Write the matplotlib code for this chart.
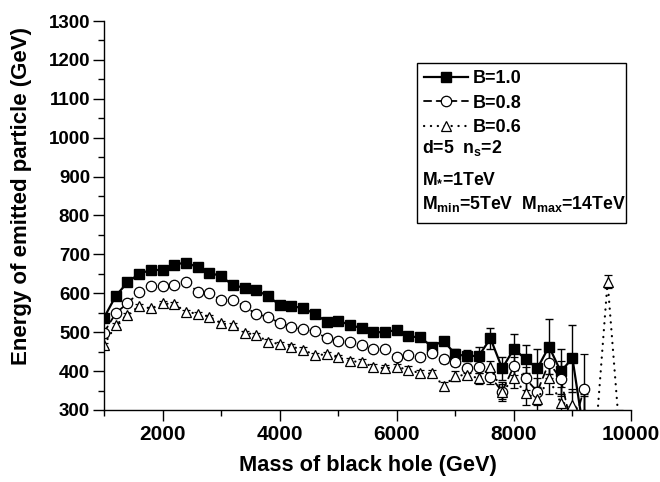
import matplotlib
matplotlib.use("Agg")
import matplotlib.pyplot as plt
from matplotlib.patches import Rectangle

plt.rcParams['font.family'] = ['Liberation Sans', 'DejaVu Sans']
plt.rcParams['font.weight'] = 'bold'
plt.rcParams['mathtext.fontset'] = 'custom'
plt.rcParams['mathtext.rm'] = 'Liberation Sans:bold'
plt.rcParams['mathtext.it'] = 'Liberation Sans:bold'
plt.rcParams['mathtext.bf'] = 'Liberation Sans:bold'

# ---- data ----
mass_b10 = list(range(1000, 9201, 200))
energy_b10 = [537, 593, 628, 650, 660, 660, 674, 679, 667, 653, 644, 621, 614, 608, 593,
              570, 567, 562, 547, 527, 529, 519, 510, 500, 500, 506, 489, 487, 463, 478,
              443, 439, 439, 484, 407, 457, 431, 407, 463, 399, 433, 235]
err_b10 = [4, 4, 4, 4, 4, 4, 4, 4, 4, 4, 4, 4, 4, 5, 5,
           5, 5, 5, 5, 5, 6, 6, 6, 6, 7, 7, 7, 8, 8, 10,
           13, 14, 22, 28, 30, 38, 35, 49, 70, 59, 86, 100]

mass_b08 = list(range(1000, 9201, 200))
energy_b08 = [499, 549, 574, 603, 619, 619, 621, 630, 604, 600, 583, 583, 567, 546, 540,
              523, 514, 507, 503, 484, 478, 476, 467, 456, 457, 437, 441, 437, 446, 430,
              424, 407, 410, 386, 347, 413, 381, 347, 422, 380, 250, 355]
err_b08 = [4, 4, 4, 4, 4, 4, 4, 4, 4, 4, 4, 4, 4, 5, 5,
           5, 5, 5, 5, 5, 6, 6, 6, 6, 7, 7, 7, 8, 8, 8,
           10, 12, 15, 20, 25, 22, 30, 35, 40, 45, 60, 88]

mass_b06 = list(range(1000, 9801, 200))
energy_b06 = [467, 518, 544, 567, 561, 574, 572, 553, 547, 540, 523, 518, 499, 493, 476,
              469, 463, 455, 441, 443, 435, 426, 423, 411, 407, 410, 404, 394, 394, 362,
              387, 391, 381, 410, 347, 381, 344, 327, 381, 319, 313, 290, 237, 630, 249]
err_b06 = [5, 5, 5, 5, 5, 5, 5, 5, 5, 5, 5, 5, 5, 6, 6,
           6, 6, 6, 6, 6, 7, 7, 7, 7, 8, 8, 8, 9, 9, 10,
           12, 12, 14, 16, 20, 25, 31, 30, 40, 40, 40, 50, 50, 17, 50]

legend_labels = ['B=1.0', 'B=0.8', 'B=0.6']
info_lines = [r'd=5  n$_{\mathrm{s}}$=2', r'M$_{*}$=1TeV',
              r'M$_{\mathrm{min}}$=5TeV  M$_{\mathrm{max}}$=14TeV']

x_ticks = [2000, 4000, 6000, 8000, 10000]
y_ticks = list(range(300, 1301, 100))

# ---- figure ----
fig = plt.figure(figsize=(6.6, 4.82), dpi=100)
ax = fig.add_axes([104/660, 1-410/482, (631-104)/660, (410-21)/482])

common = dict(color='black', ecolor='black', elinewidth=1.0, capsize=3, capthick=1.0,
              clip_on=True)
h1 = ax.errorbar(mass_b10, energy_b10, yerr=err_b10, fmt='-', marker='s', markersize=7.2,
                 markerfacecolor='black', markeredgecolor='black', linewidth=1.6,
                 label=legend_labels[0], **common)
h2 = ax.errorbar(mass_b08, energy_b08, yerr=err_b08, fmt='-', marker='o', markersize=7.5,
                 markerfacecolor='white', markeredgecolor='black', markeredgewidth=0.9,
                 linewidth=1.3, linestyle=(0, (4, 3)), label=legend_labels[1], **common)
h3 = ax.errorbar(mass_b06, energy_b06, yerr=err_b06, fmt='-', marker='^', markersize=7.5,
                 markerfacecolor='white', markeredgecolor='black', markeredgewidth=0.9,
                 linewidth=1.6, linestyle=(0, (0.1, 3)),
                 label=legend_labels[2], **common)
for h in (h2, h3):
    h[0].set_dash_capstyle('round')

ax.set_xlim(1000, 10000)
ax.set_ylim(300, 1300)
ax.set_xticks(x_ticks)
ax.set_xticks(list(range(1000, 10001, 1000)), minor=True)
ax.set_yticks(y_ticks)
ax.set_yticks(list(range(300, 1301, 50)), minor=True)
ax.spines['top'].set_visible(False)
ax.spines['right'].set_visible(False)
for s in ('left', 'bottom'):
    ax.spines[s].set_linewidth(1.0)
ax.tick_params(which='major', direction='out', length=8, width=1.0)
ax.tick_params(which='minor', direction='out', length=4, width=1.0)
ax.tick_params(axis='x', labelsize=15, pad=3)
ax.tick_params(axis='y', labelsize=13.5, pad=2)
for lab in ax.get_xticklabels() + ax.get_yticklabels():
    lab.set_fontweight('bold')

ax.set_xlabel('Mass of black hole (GeV)', fontsize=15.7, fontweight='bold', labelpad=8)
ax.set_ylabel('Energy of emitted particle (GeV)', fontsize=16, fontweight='bold')
ax.yaxis.set_label_coords(-0.137, 0.55)

# legend box
bx0, by0 = (416.7-104)/527, (410-222.7)/389
bx1, by1 = (626-104)/527, (410-62.7)/389
ax.add_patch(Rectangle((bx0, by0), bx1-bx0, by1-by0, transform=ax.transAxes,
                       fill=False, edgecolor='black', linewidth=1.0, zorder=5))
leg = ax.legend(handles=[h1[0], h2[0], h3[0]], labels=legend_labels, loc='upper left',
                bbox_to_anchor=(bx0, by1),
                frameon=False, fontsize=13, handlelength=2.45, handletextpad=0.25,
                borderpad=0.4, labelspacing=0.43, borderaxespad=0.0)
for t in leg.get_texts():
    t.set_fontweight('bold')

info_y = [148, 177, 204]
for txt, yp in zip(info_lines, info_y):
    ax.text((422.5-104)/527, (410-yp)/389, txt, transform=ax.transAxes,
            fontsize=12.7, fontweight='bold', ha='left', va='center')

fig.savefig('out.png', dpi=100)
